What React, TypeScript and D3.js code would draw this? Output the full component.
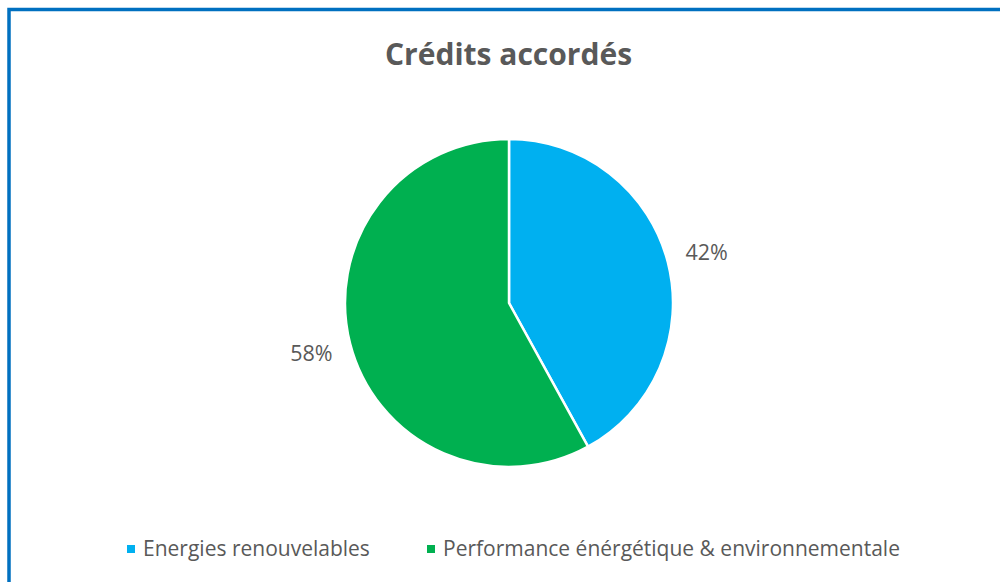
import React from "react";
import * as d3 from "d3";

const categories: string[] = ["Energies renouvelables", "Performance énérgétique & environnementale"];
const values: number[] = [42, 58];
const colors: string[] = ["#00B0F0", "#00B050"];
const title = "Crédits accordés";

export default function App() {
  const W = 1000, H = 582;
  const cx = 509, cy = 303, r = 164, labelR = 204;
  const pie = d3.pie<number>().sort(null).value((d) => d)(values);
  const arc = d3.arc<d3.PieArcDatum<number>>().innerRadius(0).outerRadius(r);
  const labelArc = d3.arc<d3.PieArcDatum<number>>().innerRadius(labelR).outerRadius(labelR);
  const total = d3.sum(values);
  const font = "'Open Sans', sans-serif";
  const legendX = [127, 427];
  return (
    <svg width={W} height={H} style={{ position: "absolute", left: 0, top: 0 }} fontFamily={font}>
      <rect x={0} y={0} width={W} height={H} fill="#fff" />
      <rect x={9} y={9.5} width={1100} height={700} fill="none" stroke="#0070C0" strokeWidth={3.5} />
      <text x={508.5} y={65} textAnchor="middle" fontSize={30} fontWeight={700} fill="#595959">{title}</text>
      <g transform={`translate(${cx},${cy})`}>
        {pie.map((p, i) => (
          <path key={i} d={arc(p) || ""} fill={colors[i]} stroke="#fff" strokeWidth={2.5} strokeLinejoin="round" />
        ))}
        {pie.map((p, i) => {
          const [x, y] = labelArc.centroid(p);
          return (
            <text key={i} x={x} y={y} dy="0.35em" textAnchor="middle" fontSize={21.5} fill="#595959">
              {`${Math.round((p.data / total) * 100)}%`}
            </text>
          );
        })}
      </g>
      {categories.map((c, i) => (
        <g key={i} transform={`translate(${legendX[i]},549)`}>
          <rect x={0} y={-4} width={8} height={8} fill={colors[i]} />
          <text x={16} y={0} dy="0.35em" fontSize={21} fill="#595959">{c}</text>
        </g>
      ))}
    </svg>
  );
}
